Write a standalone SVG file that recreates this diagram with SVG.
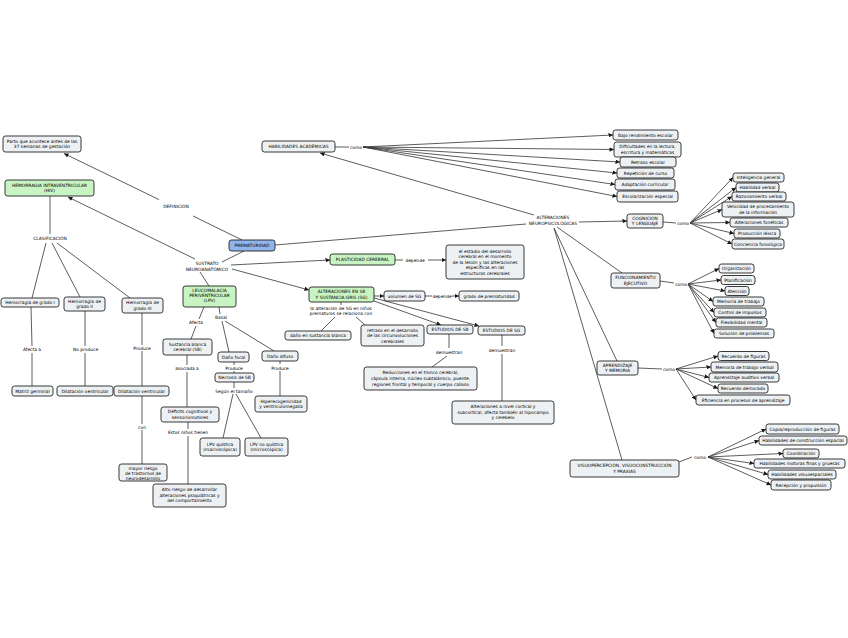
<svg xmlns="http://www.w3.org/2000/svg" width="848" height="638" viewBox="0 0 848 638">
<defs>
<marker id="ar" viewBox="0 0 10 10" refX="10" refY="5" markerWidth="4.5" markerHeight="4.5" orient="auto" markerUnits="userSpaceOnUse"><path d="M0,0 L10,5 L0,10 z" fill="#1a1a1a"/></marker>
</defs>
<style>
.n{fill:#edf1f4;stroke:#222;stroke-width:0.9}
.gr{fill:#c8f3c2;stroke:#222;stroke-width:0.9}
.bl{fill:#8fb5ec;stroke:#222;stroke-width:0.9}
text{font-family:"DejaVu Sans",Verdana,sans-serif;font-size:4.4px;fill:#000;text-anchor:middle}
.c line{stroke:#333;stroke-width:0.8;fill:none}
.c .a{marker-end:url(#ar)}
</style>
<rect width="848" height="638" fill="#fff"/>
<g id="connectors" class="c">
<line x1="242" y1="240" x2="193" y2="216"/>
<line class="a" x1="159" y1="199.6" x2="64" y2="153.5"/>
<line x1="244" y1="251" x2="222" y2="262"/>
<line class="a" x1="195" y1="259" x2="68" y2="197"/>
<line x1="50" y1="196" x2="50" y2="234"/>
<line x1="46" y1="243" x2="32" y2="298"/>
<line x1="52" y1="243" x2="80" y2="297"/>
<line x1="57" y1="243" x2="130" y2="298"/>
<line x1="31" y1="307" x2="32" y2="346"/>
<line x1="32" y1="353" x2="32" y2="386"/>
<line x1="85" y1="311" x2="85" y2="346"/>
<line x1="85" y1="353" x2="85" y2="386"/>
<line x1="142" y1="313" x2="142" y2="345"/>
<line x1="142" y1="351" x2="142" y2="386"/>
<line x1="142" y1="396" x2="142" y2="424"/>
<line x1="142" y1="430" x2="142" y2="464"/>
<line x1="200" y1="272" x2="209" y2="286"/>
<line class="a" x1="231" y1="265" x2="330" y2="260"/>
<line class="a" x1="232" y1="269" x2="309" y2="290"/>
<line x1="395" y1="260" x2="403" y2="260"/>
<line class="a" x1="428" y1="260" x2="446" y2="260"/>
<line class="a" x1="374" y1="296" x2="384" y2="296"/>
<line x1="425" y1="296" x2="432" y2="296"/>
<line class="a" x1="452" y1="296" x2="459" y2="296"/>
<line x1="341" y1="302" x2="341" y2="305"/>
<line x1="335" y1="317" x2="321" y2="331"/>
<line x1="356" y1="317" x2="365" y2="325"/>
<line class="a" x1="374" y1="301" x2="441" y2="325"/>
<line class="a" x1="374" y1="298" x2="479" y2="326"/>
<line x1="449" y1="334" x2="449" y2="348"/>
<line x1="447" y1="356" x2="432" y2="367"/>
<line x1="502" y1="335" x2="502" y2="346"/>
<line x1="502" y1="354" x2="502" y2="401"/>
<line x1="275" y1="245" x2="526" y2="224"/>
<line class="a" x1="534" y1="215" x2="320" y2="153"/>
<line class="a" x1="579" y1="222" x2="627" y2="221"/>
<line x1="557" y1="227" x2="622" y2="273"/>
<line x1="554" y1="228" x2="617" y2="361"/>
<line x1="554" y1="228" x2="622" y2="460"/>
<line x1="335" y1="147" x2="349" y2="147"/>
<line class="a" x1="363" y1="147" x2="613" y2="135"/>
<line class="a" x1="363" y1="147" x2="614" y2="149.5"/>
<line class="a" x1="363" y1="147" x2="620" y2="162"/>
<line class="a" x1="363" y1="147" x2="617" y2="173"/>
<line class="a" x1="363" y1="147" x2="615" y2="184.5"/>
<line class="a" x1="363" y1="147" x2="617" y2="196.5"/>
<line x1="663" y1="222" x2="676" y2="223"/>
<line class="a" x1="690" y1="223" x2="733" y2="177.5"/>
<line class="a" x1="690" y1="223" x2="736" y2="187.5"/>
<line class="a" x1="690" y1="223" x2="732" y2="196.5"/>
<line class="a" x1="690" y1="223" x2="722" y2="209.5"/>
<line class="a" x1="690" y1="223" x2="730" y2="222.5"/>
<line class="a" x1="690" y1="223" x2="734" y2="233.5"/>
<line class="a" x1="690" y1="223" x2="732" y2="244"/>
<line x1="660" y1="281" x2="674" y2="283"/>
<line class="a" x1="688" y1="284" x2="719" y2="268.5"/>
<line class="a" x1="688" y1="284" x2="721" y2="280"/>
<line class="a" x1="688" y1="284" x2="725" y2="291"/>
<line class="a" x1="688" y1="284" x2="713" y2="301.5"/>
<line class="a" x1="688" y1="284" x2="714" y2="312.5"/>
<line class="a" x1="688" y1="284" x2="716" y2="322.5"/>
<line class="a" x1="688" y1="284" x2="714" y2="333.5"/>
<line x1="638" y1="368" x2="662" y2="369"/>
<line class="a" x1="676" y1="369" x2="718" y2="356"/>
<line class="a" x1="676" y1="369" x2="711" y2="367"/>
<line class="a" x1="676" y1="369" x2="709" y2="377.5"/>
<line class="a" x1="676" y1="369" x2="718" y2="388.5"/>
<line class="a" x1="676" y1="369" x2="696" y2="400"/>
<line x1="679" y1="462" x2="692" y2="457"/>
<line class="a" x1="708" y1="457" x2="766" y2="429"/>
<line class="a" x1="708" y1="457" x2="759" y2="440.5"/>
<line class="a" x1="708" y1="457" x2="783" y2="453.5"/>
<line class="a" x1="708" y1="457" x2="754" y2="463.5"/>
<line class="a" x1="708" y1="457" x2="768" y2="474.5"/>
<line class="a" x1="708" y1="457" x2="771" y2="485"/>
<line x1="204" y1="307" x2="199" y2="319"/>
<line x1="196" y1="326" x2="191" y2="339"/>
<line x1="219" y1="307" x2="220" y2="314"/>
<line x1="222" y1="321" x2="229" y2="352"/>
<line x1="225" y1="321" x2="274" y2="351"/>
<line x1="187" y1="355" x2="187" y2="365"/>
<line x1="187" y1="372" x2="187" y2="407"/>
<line x1="188" y1="422" x2="188" y2="429"/>
<line x1="188" y1="436" x2="188" y2="484"/>
<line x1="234" y1="362" x2="234" y2="365"/>
<line x1="234" y1="371" x2="234" y2="373"/>
<line x1="280" y1="361" x2="280" y2="364"/>
<line x1="280" y1="371" x2="280" y2="396"/>
<line x1="234" y1="382" x2="234" y2="388"/>
<line x1="233" y1="394" x2="223" y2="438"/>
<line x1="236" y1="394" x2="261" y2="438"/>
</g>
<g id="labels">
<text x="176" y="207.5">DEFINICIÓN</text>
<text x="50" y="239.5">CLASIFICACIÓN</text>
<text x="207" y="265">SUSTRATO<tspan x="207" y="270.5">NEUROANATÓMICO</tspan></text>
<text x="356" y="148.5">como</text>
<text x="553" y="219">ALTERACIONES<tspan x="553" y="224.5">NEUROPSICOLÓGICAS</tspan></text>
<text x="683" y="224.5">como</text>
<text x="681" y="285.5">como</text>
<text x="669" y="370.5">como</text>
<text x="700" y="458.5">como</text>
<text x="415" y="261.5">depende</text>
<text x="442" y="297.5">depende</text>
<text x="341" y="309.5">la alteración de SG en niños<tspan x="341" y="315">prematuros se relaciona con</tspan></text>
<text x="449" y="353.5">demuestran</text>
<text x="502" y="352">demuestran</text>
<text x="32" y="350.5">Afecta a</text>
<text x="85.5" y="350.5">No produce</text>
<text x="142" y="349.5">Produce</text>
<text x="142" y="428.5">con</text>
<text x="196" y="323.5">Afecta</text>
<text x="221" y="319">Basal</text>
<text x="187" y="370">asociada a</text>
<text x="188" y="434">Estos niños tienen</text>
<text x="234" y="369.5">Produce</text>
<text x="280" y="369.5">Produce</text>
<text x="234" y="392.5">Según el tamaño</text>
</g>
<g id="n-parto"><rect class="n" x="3" y="136" width="78" height="16" rx="2.5"/><text x="42" y="142.9">Parto que acontece antes de las<tspan x="42" y="148.1">37 semanas de gestación</tspan></text></g>
<g id="n-hiv"><rect class="gr" x="5" y="180" width="89" height="16" rx="2.5"/><text x="49.5" y="186.9">HEMORRAGIA INTRAVENTRICULAR<tspan x="49.5" y="192.1">(HIV)</tspan></text></g>
<g id="n-prematuridad"><rect class="bl" x="229" y="240" width="46" height="11" rx="2.5"/><text x="252" y="247">PREMATURIDAD</text></g>
<g id="n-habilidades"><rect class="n" x="262" y="141" width="73" height="11" rx="2.5"/><text x="298.5" y="148">HABILIDADES ACADÉMICAS</text></g>
<g id="n-bajo"><rect class="n" x="613" y="130" width="65" height="10" rx="2.5"/><text x="645.5" y="136.5">Bajo rendimiento escolar</text></g>
<g id="n-dificultades"><rect class="n" x="614" y="142" width="67" height="15" rx="2.5"/><text x="647.5" y="148.4">Dificultades en la lectura,<tspan x="647.5" y="153.6">escritura y matemáticas</tspan></text></g>
<g id="n-retraso"><rect class="n" x="620" y="157" width="56" height="10" rx="2.5"/><text x="648" y="163.5">Retraso escolar</text></g>
<g id="n-repeticion"><rect class="n" x="617" y="168" width="57" height="10" rx="2.5"/><text x="645.5" y="174.5">Repetición de curso</text></g>
<g id="n-adaptacion"><rect class="n" x="615" y="179" width="60" height="11" rx="2.5"/><text x="645" y="186">Adaptación curricular</text></g>
<g id="n-escolarizacion"><rect class="n" x="617" y="191" width="61" height="11" rx="2.5"/><text x="647.5" y="198">Escolarización especial</text></g>
<g id="n-cognicion"><rect class="n" x="627" y="214" width="36" height="14" rx="2.5"/><text x="645" y="219.9">COGNICIÓN<tspan x="645" y="225.1">Y LENGUAJE</tspan></text></g>
<g id="n-inteligencia"><rect class="n" x="733" y="173" width="51" height="9" rx="2.5"/><text x="758.5" y="179">Inteligencia general</text></g>
<g id="n-habverbal"><rect class="n" x="736" y="183" width="43" height="9" rx="2.5"/><text x="757.5" y="189">Habilidad verbal</text></g>
<g id="n-razonamiento"><rect class="n" x="732" y="192" width="54" height="9" rx="2.5"/><text x="759" y="198">Razonamiento verbal</text></g>
<g id="n-velocidad"><rect class="n" x="722" y="202" width="72" height="15" rx="2.5"/><text x="758" y="208.4">Velocidad de procesamiento<tspan x="758" y="213.6">de la información</tspan></text></g>
<g id="n-foneticas"><rect class="n" x="730" y="218" width="58" height="9" rx="2.5"/><text x="759" y="224">Alteraciones fonéticas</text></g>
<g id="n-lexica"><rect class="n" x="734" y="229" width="46" height="9" rx="2.5"/><text x="757" y="235">Producción léxica</text></g>
<g id="n-conciencia"><rect class="n" x="732" y="239" width="52" height="10" rx="2.5"/><text x="758" y="245.5">Conciencia fonológica</text></g>
<g id="n-plasticidad"><rect class="gr" x="330" y="254" width="65" height="11" rx="2.5"/><text x="362.5" y="261">PLASTICIDAD CEREBRAL</text></g>
<g id="n-estadio"><rect class="n" x="446" y="245" width="78" height="34" rx="2.5"/><text x="485" y="252.5">el estadio del desarrollo<tspan x="485" y="258">cerebral en el momento</tspan><tspan x="485" y="263.5">de la lesión y las alteraciones</tspan><tspan x="485" y="269">específicas en las</tspan><tspan x="485" y="274.5">estructuras cerebrales</tspan></text></g>
<g id="n-altsbsg"><rect class="gr" x="309" y="287" width="65" height="15" rx="2.5"/><text x="341.5" y="293.4">ALTERACIONES EN SB<tspan x="341.5" y="298.6">Y SUSTANCIA GRIS (SG)</tspan></text></g>
<g id="n-volumen"><rect class="n" x="384" y="291" width="41" height="10" rx="2.5"/><text x="404.5" y="297.5">volumen de SG</text></g>
<g id="n-grado"><rect class="n" x="459" y="291" width="60" height="10" rx="2.5"/><text x="489" y="297.5">grado de prematuridad</text></g>
<g id="n-danosb"><rect class="n" x="285" y="331" width="66" height="9" rx="2.5"/><text x="318" y="337">daño en sustancia blanca</text></g>
<g id="n-circunv"><rect class="n" x="361" y="325" width="63" height="21" rx="2.5"/><text x="392.5" y="331.5">retraso en el desarrollo<tspan x="392.5" y="337">de las circunvoluciones</tspan><tspan x="392.5" y="342.5">cerebrales</tspan></text></g>
<g id="n-estsb"><rect class="n" x="427" y="325" width="46" height="9" rx="2.5"/><text x="450" y="331">ESTUDIOS DE SB</text></g>
<g id="n-estsg"><rect class="n" x="478" y="326" width="47" height="9" rx="2.5"/><text x="501.5" y="332">ESTUDIOS DE SG</text></g>
<g id="n-reducciones"><rect class="n" x="364" y="367" width="113" height="23" rx="2.5"/><text x="420.5" y="374.3">Reducciones en el tronco cerebral,<tspan x="420.5" y="380">cápsula interna, núcleo subtalámico, puente,</tspan><tspan x="420.5" y="385.7">regiones frontal y temporal y cuerpo calloso</tspan></text></g>
<g id="n-cortical"><rect class="n" x="452" y="401" width="102" height="23" rx="2.5"/><text x="503" y="408">Alteraciones a nivel cortical y<tspan x="503" y="413.7">subcortical, afecta también al hipocampo</tspan><tspan x="503" y="419.4">y cerebelo</tspan></text></g>
<g id="n-funcionamiento"><rect class="n" x="611" y="273" width="49" height="15" rx="2.5"/><text x="635.5" y="279.4">FUNCIONAMIENTO<tspan x="635.5" y="284.6">EJECUTIVO</tspan></text></g>
<g id="n-organizacion"><rect class="n" x="719" y="264" width="35" height="9" rx="2.5"/><text x="736.5" y="270">Organización</text></g>
<g id="n-planificacion"><rect class="n" x="721" y="275.5" width="34" height="9" rx="2.5"/><text x="738" y="281.5">Planificación</text></g>
<g id="n-atencion"><rect class="n" x="725" y="286.5" width="24" height="9" rx="2.5"/><text x="737" y="292.5">Atención</text></g>
<g id="n-memtrabajo"><rect class="n" x="713" y="297" width="51" height="9" rx="2.5"/><text x="738.5" y="303">Memoria de trabajo</text></g>
<g id="n-control"><rect class="n" x="714" y="308" width="52" height="9" rx="2.5"/><text x="740" y="314">Control de impulsos</text></g>
<g id="n-flexibilidad"><rect class="n" x="716" y="318" width="51" height="9" rx="2.5"/><text x="741.5" y="324">Flexibilidad mental</text></g>
<g id="n-solucion"><rect class="n" x="714" y="329" width="60" height="9" rx="2.5"/><text x="744" y="335">Solución de problemas</text></g>
<g id="n-aprendizaje"><rect class="n" x="597" y="361" width="41" height="14" rx="2.5"/><text x="617.5" y="366.9">APRENDIZAJE<tspan x="617.5" y="372.1">Y MEMORIA</tspan></text></g>
<g id="n-recfiguras"><rect class="n" x="718" y="351.5" width="51" height="9" rx="2.5"/><text x="743.5" y="357.5">Recuerdo de figuras</text></g>
<g id="n-memverbal"><rect class="n" x="711" y="362" width="67" height="10" rx="2.5"/><text x="744.5" y="368.5">Memoria de trabajo verbal</text></g>
<g id="n-auditivo"><rect class="n" x="709" y="373" width="70" height="9" rx="2.5"/><text x="744" y="379">Aprendizaje auditivo verbal</text></g>
<g id="n-demorado"><rect class="n" x="718" y="384" width="50" height="9" rx="2.5"/><text x="743" y="390">Recuerdo demorado</text></g>
<g id="n-eficiencia"><rect class="n" x="696" y="395" width="94" height="10" rx="2.5"/><text x="743" y="401.5">Eficiencia en procesos de aprendizaje</text></g>
<g id="n-visuo"><rect class="n" x="570" y="460" width="109" height="17" rx="2.5"/><text x="624.5" y="467.2">VISUOPERCEPCIÓN, VISUOCONSTRUCCIÓN<tspan x="624.5" y="472.6">Y PRAXIAS</tspan></text></g>
<g id="n-copia"><rect class="n" x="766" y="424" width="73" height="10" rx="2.5"/><text x="802.5" y="430.5">Copia/reproducción de figuras</text></g>
<g id="n-construccion"><rect class="n" x="759" y="436" width="88" height="9" rx="2.5"/><text x="803" y="442">Habilidades de construcción espacial</text></g>
<g id="n-coordinacion"><rect class="n" x="783" y="449" width="36" height="9" rx="2.5"/><text x="801" y="455">Coordinación</text></g>
<g id="n-motoras"><rect class="n" x="754" y="459" width="91" height="9" rx="2.5"/><text x="799.5" y="465">Habilidades motoras finas y gruesas</text></g>
<g id="n-visuoespaciales"><rect class="n" x="768" y="470" width="68" height="9" rx="2.5"/><text x="802" y="476">Habilidades visuoespaciales</text></g>
<g id="n-recepcion"><rect class="n" x="771" y="480" width="60" height="10" rx="2.5"/><text x="801" y="486.5">Recepción y propulsión</text></g>
<g id="n-grado1"><rect class="n" x="1" y="298" width="58" height="9" rx="2.5"/><text x="30" y="304">Hemorragia de grado I</text></g>
<g id="n-grado2"><rect class="n" x="64" y="297" width="41" height="14" rx="2.5"/><text x="84.5" y="302.9">Hemorragia de<tspan x="84.5" y="308.1">grado II</tspan></text></g>
<g id="n-grado3"><rect class="n" x="122" y="298" width="41" height="15" rx="2.5"/><text x="142.5" y="304.4">Hemorragia de<tspan x="142.5" y="309.6">grado III</tspan></text></g>
<g id="n-matriz"><rect class="n" x="12" y="386" width="41" height="10" rx="2.5"/><text x="32.5" y="392.5">Matriz germinal</text></g>
<g id="n-dilat1"><rect class="n" x="57" y="386" width="56" height="10" rx="2.5"/><text x="85" y="392.5">Dilatación ventricular</text></g>
<g id="n-dilat2"><rect class="n" x="114" y="386" width="55" height="10" rx="2.5"/><text x="141.5" y="392.5">Dilatación ventricular</text></g>
<g id="n-mayor"><rect class="n" x="119" y="464" width="48" height="17" rx="2.5"/><text x="143" y="470">mayor riesgo<tspan x="143" y="475">de trastornos de</tspan><tspan x="143" y="480">neurodesarrollo</tspan></text></g>
<g id="n-lpv"><rect class="gr" x="183" y="286" width="53" height="21" rx="2.5"/><text x="209.5" y="291.8">LEUCOMALACIA<tspan x="209.5" y="297.1">PERIVENTRICULAR</tspan><tspan x="209.5" y="302.4">(LPV)</tspan></text></g>
<g id="n-sb"><rect class="n" x="163" y="339" width="49" height="16" rx="2.5"/><text x="187.5" y="345.9">Sustancia blanca<tspan x="187.5" y="351.1">cerebral (SB)</tspan></text></g>
<g id="n-deficits"><rect class="n" x="161" y="407" width="58" height="15" rx="2.5"/><text x="190" y="413.4">Déficits cognitivos y<tspan x="190" y="418.6">sensoriomotores</tspan></text></g>
<g id="n-alto"><rect class="n" x="153" y="484" width="73" height="23" rx="2.5"/><text x="189.5" y="491">Alto riesgo de desarrollar<tspan x="189.5" y="496.5">alteraciones psiquiátricas y</tspan><tspan x="189.5" y="502">del comportamiento</tspan></text></g>
<g id="n-focal"><rect class="n" x="218" y="352" width="31" height="10" rx="2.5"/><text x="233.5" y="358.5">Daño focal</text></g>
<g id="n-difuso"><rect class="n" x="262" y="351" width="36" height="10" rx="2.5"/><text x="280" y="357.5">Daño difuso</text></g>
<g id="n-necrosis"><rect class="n" x="215" y="373" width="39" height="9" rx="2.5"/><text x="234.5" y="379">Necrosis de SB</text></g>
<g id="n-hiper"><rect class="n" x="255" y="396" width="52" height="16" rx="2.5"/><text x="281" y="402.7">Hiperecogenicidad<tspan x="281" y="408.3">y ventriculomegalia</tspan></text></g>
<g id="n-quistica"><rect class="n" x="200" y="438" width="40" height="18" rx="2.5"/><text x="220" y="445.6">LPV quística<tspan x="220" y="451.2">(macroscópica)</tspan></text></g>
<g id="n-noquistica"><rect class="n" x="245" y="438" width="43" height="18" rx="2.5"/><text x="266.5" y="445.6">LPV no quística<tspan x="266.5" y="451.2">(microscópica)</tspan></text></g>
</svg>
